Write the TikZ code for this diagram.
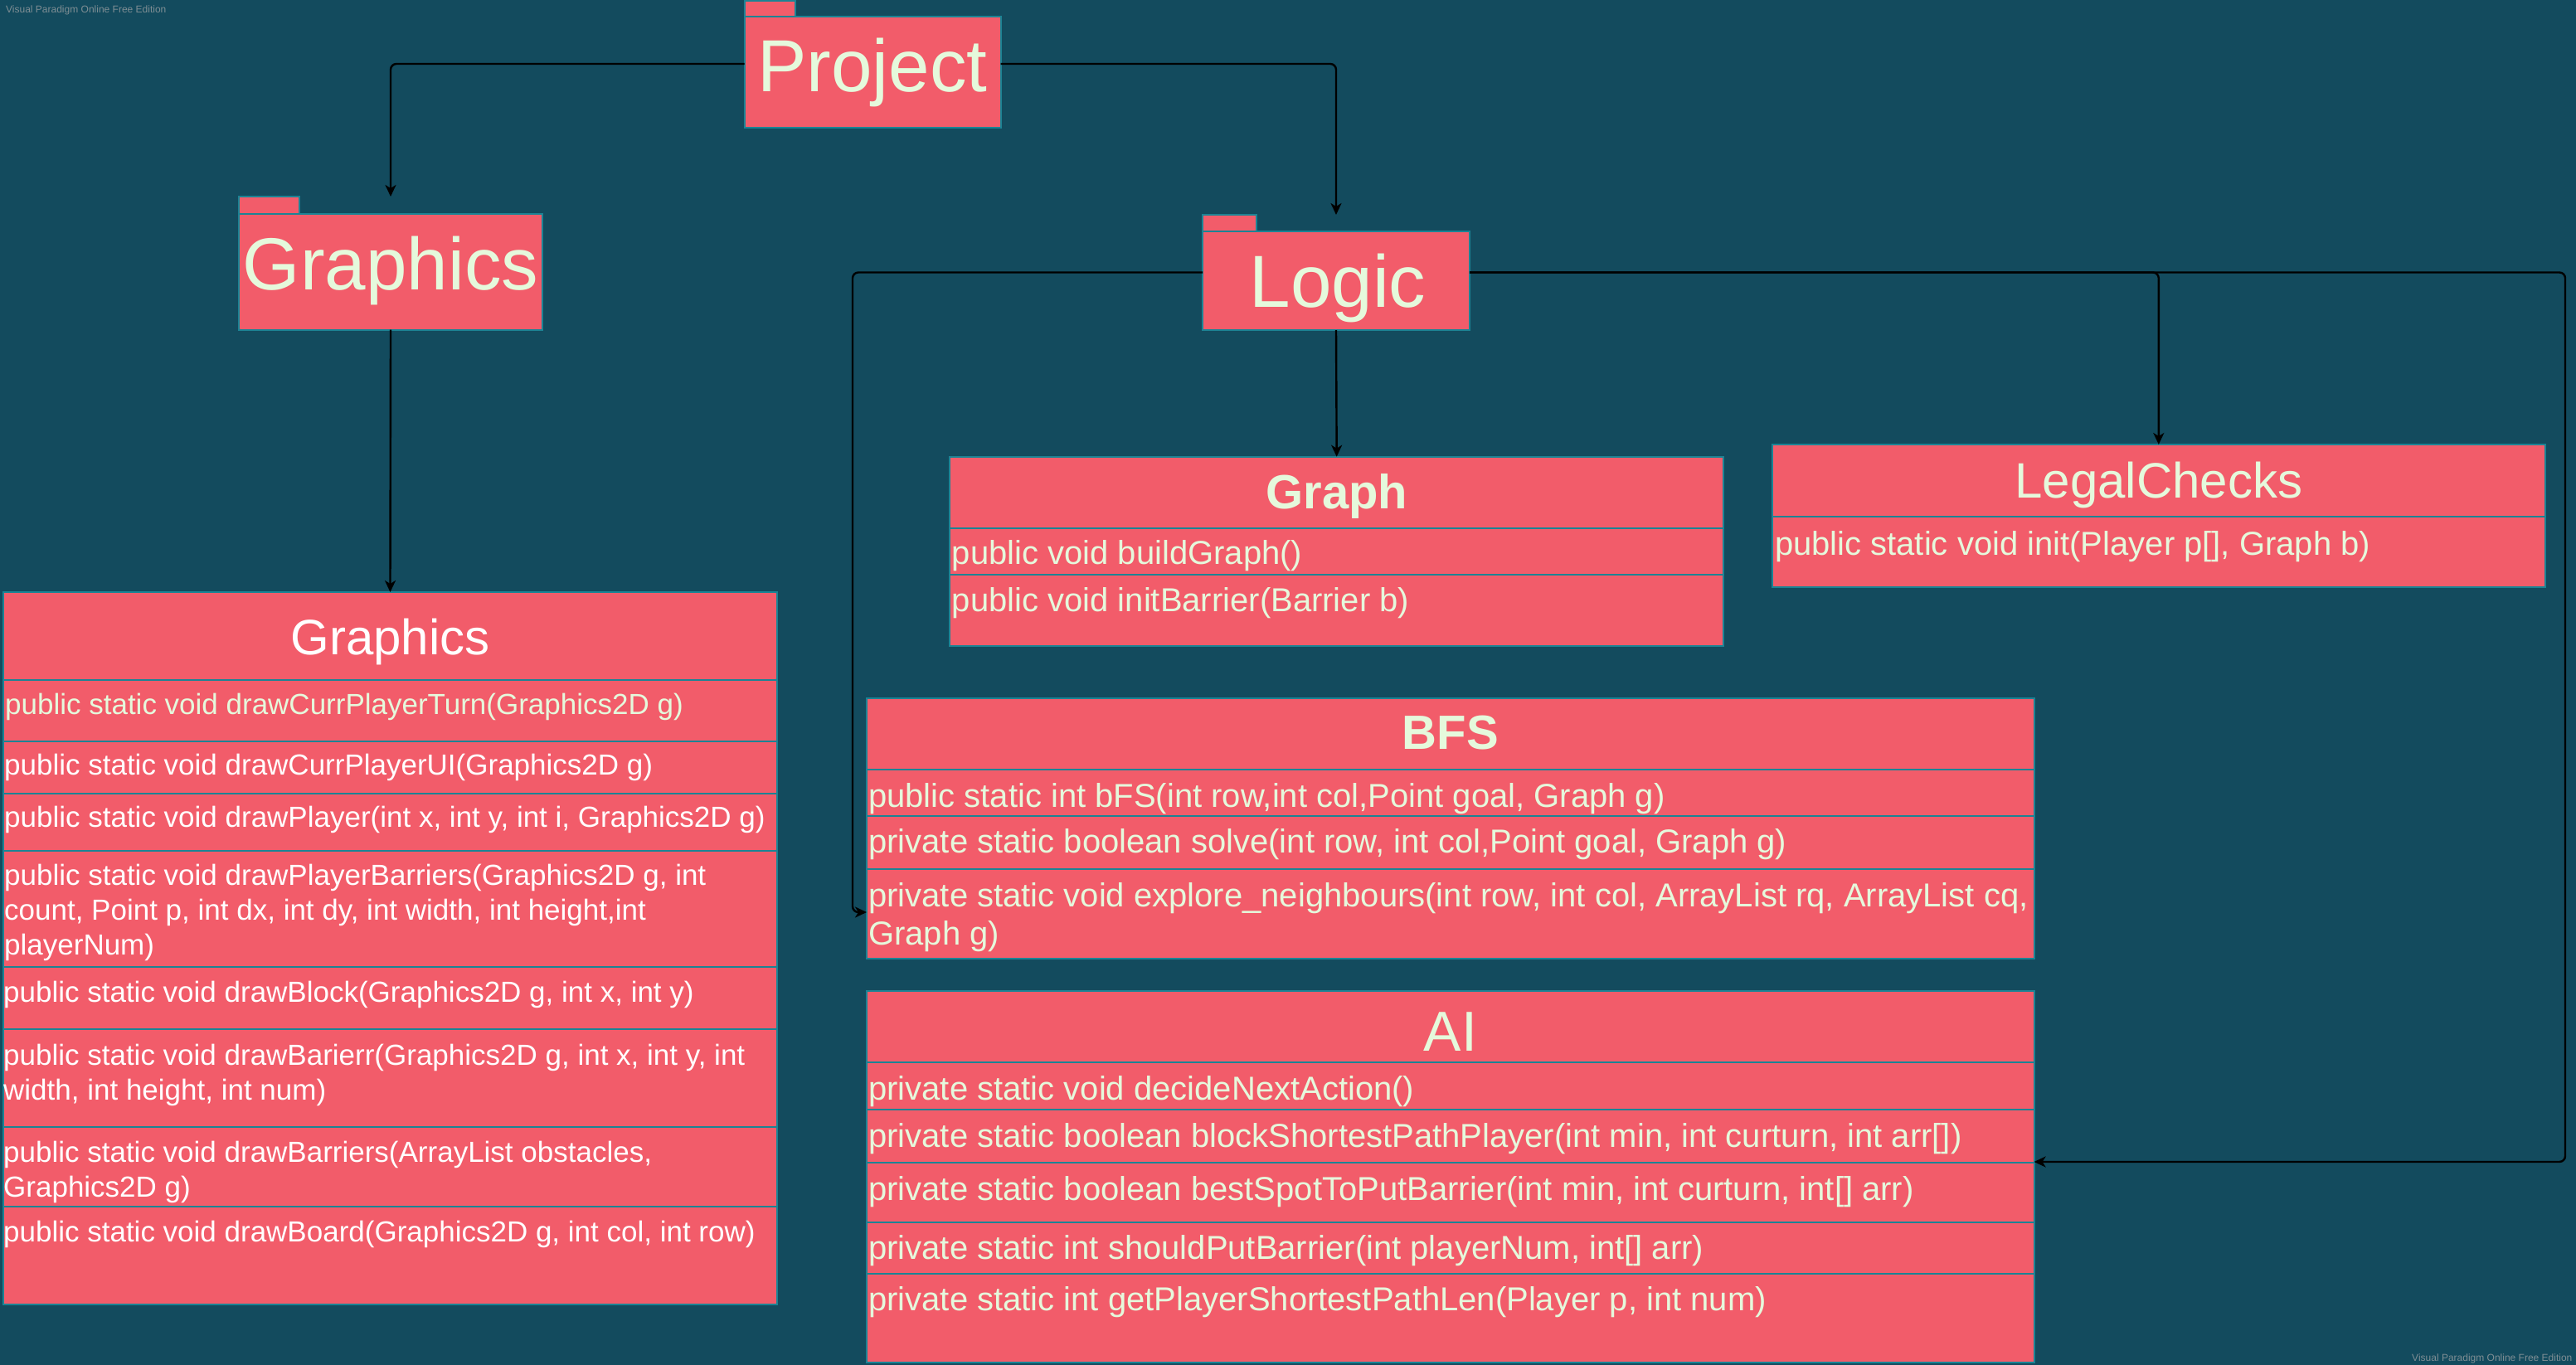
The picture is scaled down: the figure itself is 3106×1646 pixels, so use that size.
\documentclass[tikz,border=0pt]{standalone}
\usepackage{fontspec}
\setmainfont{Liberation Sans}
\usetikzlibrary{arrows.meta,calc}
\definecolor{bg}{HTML}{134B5E}
\definecolor{boxfill}{HTML}{F25C6A}
\definecolor{boxline}{HTML}{1C8394}
\definecolor{cream}{HTML}{E5F9DC}
\definecolor{wmgrey}{HTML}{7F8E94}
\begin{document}
\begin{tikzpicture}[x=1pt,y=-1pt,
  shapebox/.style={draw=boxline, line width=2pt, fill=boxfill, inner sep=0pt, outer sep=0pt, anchor=north west},
  divline/.style={draw=boxline, line width=2pt},
  pkgtext/.style={text=cream, font=\fontsize{89}{100}\selectfont, inner sep=0pt, anchor=base},
  gtitle/.style={text=white, font=\fontsize{60}{70}\selectfont, inner sep=0pt, anchor=base},
  gmeth/.style={text=white, font=\fontsize{35}{42}\selectfont, inner sep=0pt, anchor=base west},
  ltitle/.style={text=cream, font=\fontsize{60}{70}\selectfont, inner sep=0pt, anchor=base},
  lbold/.style={text=cream, font=\fontsize{58}{68}\selectfont\bfseries, inner sep=0pt, anchor=base},
  lmeth/.style={text=cream, font=\fontsize{40}{46}\selectfont, inner sep=0pt, anchor=base west},
  wmark/.style={text=wmgrey, font=\fontsize{12}{14}\selectfont, inner sep=0pt, anchor=base west},
  conn/.style={draw=black, line width=2.4pt, rounded corners=7pt, -{Stealth[length=14pt, width=13pt, inset=4pt]}}
]
\fill[bg] (0,0) rectangle (3106,1646);
\useasboundingbox (0,0) rectangle (3106,1646);

% watermarks
\node[wmark] (wm1) at (7,16) {Visual Paradigm Online Free Edition};
\node[wmark] (wm2) at (2908,1641) {Visual Paradigm Online Free Edition};

% ---------- packages ----------
\node[shapebox, minimum width=61.4, minimum height=19.3] (projecttab) at (897.6,0.7) {};
\node[shapebox, minimum width=309, minimum height=134] (project) at (897.6,20) {};
\node[pkgtext] (projectlbl) at (1052,110.7) {Project};

\node[shapebox, minimum width=73, minimum height=20.6] (gpkgtab) at (288,237) {};
\node[shapebox, minimum width=366, minimum height=140] (gpkg) at (288,257.6) {};
\node[pkgtext] (gpkglbl) at (471,349) {Graphics};

\node[shapebox, minimum width=65, minimum height=20] (logictab) at (1450,259) {};
\node[shapebox, minimum width=322, minimum height=119] (logic) at (1450,279) {};
\node[pkgtext] (logiclbl) at (1613,370) {Logic};

% ---------- Graphics class ----------
\node[shapebox, minimum width=933, minimum height=859] (gcls) at (4,714) {};
\foreach \yy in {820,893.5,956.6,1026,1165.6,1241,1359,1455}
  \draw[divline] (4,\yy) -- (937,\yy);
\node[gtitle] (gclstitle) at (470.5,789) {Graphics};
\node[gmeth, text=cream] (g1) at (6,861) {public static void drawCurrPlayerTurn(Graphics2D g)};
\node[gmeth] (g2) at (5,934) {public static void drawCurrPlayerUI(Graphics2D g)};
\node[gmeth] (g3) at (5,997) {public static void drawPlayer(int x, int y, int i, Graphics2D g)};
\node[gmeth] (g4a) at (5,1067) {public static void drawPlayerBarriers(Graphics2D g, int};
\node[gmeth] (g4b) at (5,1109) {count, Point p, int dx, int dy, int width, int height,int};
\node[gmeth] (g4c) at (5,1151) {playerNum)};
\node[gmeth] (g5) at (4,1208) {public static void drawBlock(Graphics2D g, int x, int y)};
\node[gmeth] (g6a) at (4,1284) {public static void drawBarierr(Graphics2D g, int x, int y, int};
\node[gmeth] (g6b) at (4,1326) {width, int height, int num)};
\node[gmeth] (g7a) at (4,1401.5) {public static void drawBarriers(ArrayList obstacles,};
\node[gmeth] (g7b) at (4,1443) {Graphics2D g)};
\node[gmeth] (g8) at (4,1497) {public static void drawBoard(Graphics2D g, int col, int row)};

% ---------- Graph class ----------
\node[shapebox, minimum width=932.6, minimum height=228.3] (graph) at (1145.4,550.7) {};
\foreach \yy in {636.7,693}
  \draw[divline] (1145.4,\yy) -- (2078,\yy);
\node[lbold] (graphtitle) at (1611.7,613) {Graph};
\node[lmeth] (gr1) at (1147.7,680) {public void buildGraph()};
\node[lmeth] (gr2) at (1147.7,737) {public void initBarrier(Barrier b)};

% ---------- LegalChecks class ----------
\node[shapebox, minimum width=932.4, minimum height=171.7] (legal) at (2136.6,536) {};
\draw[divline] (2136.6,622.7) -- (3069,622.7);
\node[ltitle] (legaltitle) at (2602.8,600.4) {LegalChecks};
\node[lmeth] (lc1) at (2139.8,669) {public static void init(Player p[], Graph b)};

% ---------- BFS class ----------
\node[shapebox, minimum width=1407.6, minimum height=314] (bfs) at (1045,842) {};
\foreach \yy in {927.5,984.4,1048}
  \draw[divline] (1045,\yy) -- (2452.6,\yy);
\node[lbold] (bfstitle) at (1748.8,903) {BFS};
\node[lmeth] (b1) at (1047,973) {public static int bFS(int row,int col,Point goal, Graph g)};
\node[lmeth] (b2) at (1047,1028) {private static boolean solve(int row, int col,Point goal, Graph g)};
\node[lmeth] (b3a) at (1047,1093) {private static void explore\_neighbours(int row, int col, ArrayList rq, ArrayList cq,};
\node[lmeth] (b3b) at (1047,1139) {Graph g)};

% ---------- AI class ----------
\node[shapebox, minimum width=1407.6, minimum height=448] (ai) at (1045,1195) {};
\foreach \yy in {1281,1338.4,1402,1474,1536}
  \draw[divline] (1045,\yy) -- (2452.6,\yy);
\node[ltitle, font=\fontsize{68}{78}\selectfont] (aititle) at (1748.8,1267) {AI};
\node[lmeth] (a1) at (1047,1326) {private static void decideNextAction()};
\node[lmeth] (a2) at (1047,1383) {private static boolean blockShortestPathPlayer(int min, int curturn, int arr[])};
\node[lmeth] (a3) at (1047,1447) {private static boolean bestSpotToPutBarrier(int min, int curturn, int[] arr)};
\node[lmeth] (a4) at (1047,1518) {private static int shouldPutBarrier(int playerNum, int[] arr)};
\node[lmeth] (a5) at (1047,1580) {private static int getPlayerShortestPathLen(Player p, int num)};

% ---------- connectors ----------
\coordinate (gpkgtop) at (gpkg.north |- gpkgtab.north);
\coordinate (logictop) at (logic.north |- logictab.north);
\coordinate (bfsbend) at (1028,1100);
\coordinate (bfsin) at (bfs.west |- bfsbend);
\coordinate (aicorner) at (3093,1401);
\coordinate (aiin) at (ai.east |- aicorner);

\draw[conn] ([yshift=10pt]project.west) -| (gpkgtop);
\draw[conn] ([yshift=10pt]project.east) -| (logictop);
\draw[conn] (gpkg.south) -- (gcls.north);
\draw[conn] (logic.south) -- (graph.north);
\draw[conn] ([yshift=10pt]logic.west) -| (bfsbend) -- (bfsin);
\draw[conn] ([yshift=10pt]logic.east) -| (legal.north);
\draw[conn] ([yshift=10pt]logic.east) -| (aicorner) -- (aiin);
\end{tikzpicture}
\end{document}
